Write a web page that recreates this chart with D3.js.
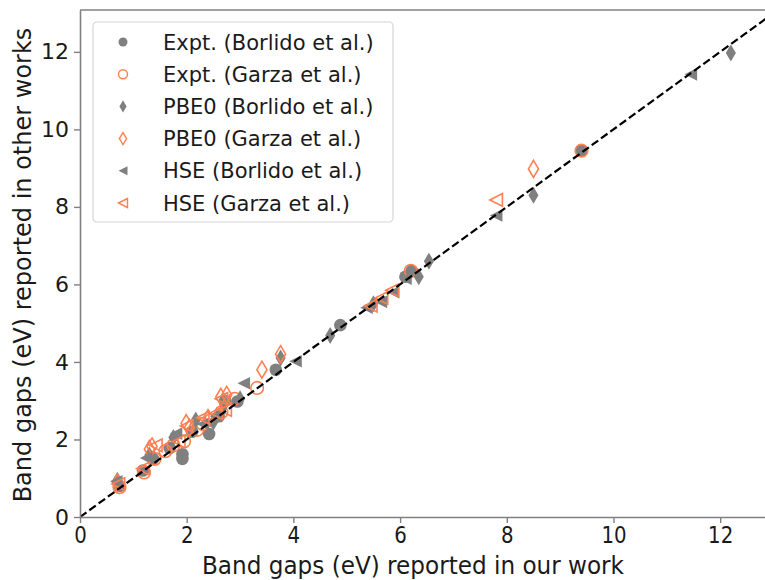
<!DOCTYPE html>
<html>
<head>
<meta charset="utf-8">
<script src="https://cdn.jsdelivr.net/npm/d3@7"></script>
<style>
	body { margin: 0; background: #fff; }
	text { font-family: "DejaVu Sans", sans-serif; fill: #1a1a1a; }
</style>
</head>
<body>
<div id="svg"></div>
<script>
///////////////////////////////////////////////////////////////////////////////
//// Data /////////////////////////////////////////////////////////////////////
///////////////////////////////////////////////////////////////////////////////
// [our work, other work] band gaps in eV
const exptBorlido = [
	[0.74, 0.80], [1.18, 1.20], [1.37, 1.50], [1.68, 1.78], [1.92, 1.50],
	[1.92, 1.62], [2.10, 2.20], [2.42, 2.14], [2.60, 2.60], [2.72, 3.00],
	[2.95, 2.98], [3.67, 3.80], [4.88, 4.95], [6.10, 6.20], [6.22, 6.35],
	[9.40, 9.45]
];
const exptGarza = [
	[0.74, 0.77], [1.20, 1.15], [1.40, 1.50], [1.60, 1.70], [1.75, 1.85],
	[1.95, 1.95], [2.20, 2.25], [2.30, 2.40], [2.45, 2.50], [2.65, 2.70],
	[2.90, 3.05], [3.32, 3.33], [6.20, 6.35], [9.40, 9.45]
];
const pbe0Borlido = [
	[0.70, 0.95], [1.30, 1.60], [1.75, 2.05], [2.17, 2.50], [2.50, 2.45],
	[2.70, 2.90], [3.00, 3.05], [3.76, 4.10], [4.69, 4.68], [5.50, 5.50],
	[6.35, 6.20], [6.54, 6.60], [8.50, 8.30], [12.20, 11.97]
];
const pbe0Garza = [
	[0.70, 0.88], [1.30, 1.75], [1.35, 1.82], [1.99, 2.42], [2.05, 2.30],
	[2.40, 2.55], [2.64, 3.10], [2.75, 3.15], [3.41, 3.80], [3.76, 4.20],
	[8.50, 8.98]
];
const hseBorlido = [
	[0.68, 0.92], [1.24, 1.52], [1.80, 2.15], [2.30, 2.40], [2.55, 2.60],
	[3.07, 3.45], [4.04, 4.02], [5.37, 5.40], [5.64, 5.55], [5.87, 5.80],
	[6.10, 6.15], [7.80, 7.78], [11.45, 11.42]
];
const hseGarza = [
	[0.72, 0.85], [1.18, 1.25], [1.42, 1.85], [1.85, 1.95], [2.00, 2.35],
	[2.30, 2.56], [2.55, 2.68], [2.65, 3.05], [2.72, 2.76], [5.45, 5.45],
	[5.65, 5.65], [5.85, 5.85], [7.80, 8.18]
];

const seriesNames = ["Expt. (Borlido et al.)", "Expt. (Garza et al.)",
										 "PBE0 (Borlido et al.)", "PBE0 (Garza et al.)",
										 "HSE (Borlido et al.)", "HSE (Garza et al.)"];
const xTicks = [0, 2, 4, 6, 8, 10, 12],
			yTicks = [0, 2, 4, 6, 8, 10, 12];

///////////////////////////////////////////////////////////////////////////////
//// Set Up ///////////////////////////////////////////////////////////////////
///////////////////////////////////////////////////////////////////////////////
const width = 765,
			height = 580;

const grey = "#808080",
			coral = "#ff7f50";

const margin = { left: 80, right: 0, top: 10, bottom: 63 };

const x = d3.scaleLinear()
		.domain([0, 12.84])
		.range([margin.left, width - margin.right]);

const y = d3.scaleLinear()
		.domain([0, 13.08])
		.range([height - margin.bottom, margin.top]);

// Marker shapes, s = half size
const shapes = {
	circle: s => `M${s},0A${s},${s} 0 1,1 ${-s},0A${s},${s} 0 1,1 ${s},0Z`,
	diamond: s => `M0,${-s * 1.35}L${s * 0.8},0L0,${s * 1.35}L${-s * 0.8},0Z`,
	triLeft: s => `M${-s},0L${s},${-s}L${s},${s}Z`
};

const series = [
	{ name: seriesNames[0], data: exptBorlido, shape: "circle", filled: true },
	{ name: seriesNames[1], data: exptGarza, shape: "circle", filled: false },
	{ name: seriesNames[2], data: pbe0Borlido, shape: "diamond", filled: true },
	{ name: seriesNames[3], data: pbe0Garza, shape: "diamond", filled: false },
	{ name: seriesNames[4], data: hseBorlido, shape: "triLeft", filled: true },
	{ name: seriesNames[5], data: hseGarza, shape: "triLeft", filled: false }
];

const svg = d3.select("#svg")
	.append("svg")
		.attr("width", width)
		.attr("height", height);

svg.append("defs")
	.append("clipPath")
		.attr("id", "plot-clip")
	.append("rect")
		.attr("x", margin.left)
		.attr("y", margin.top)
		.attr("width", width - margin.left - margin.right)
		.attr("height", height - margin.top - margin.bottom);

///////////////////////////////////////////////////////////////////////////////
//// Markers //////////////////////////////////////////////////////////////////
///////////////////////////////////////////////////////////////////////////////
const plotG = svg.append("g")
		.attr("clip-path", "url(#plot-clip)");

series.forEach(sr => {
	plotG.append("g")
		.selectAll("path")
		.data(sr.data)
		.enter()
		.append("path")
			.attr("transform", d => `translate(${x(d[0])}, ${y(d[1])})`)
			.attr("d", shapes[sr.shape](6.3))
			.attr("fill", sr.filled ? grey : "none")
			.attr("stroke", sr.filled ? "none" : coral)
			.attr("stroke-width", 1.6);
});

// y = x reference line
plotG.append("line")
		.attr("x1", x(0))
		.attr("y1", y(0))
		.attr("x2", x(14))
		.attr("y2", y(14))
		.attr("stroke", "#000")
		.attr("stroke-width", 2.2)
		.attr("stroke-dasharray", "8,3.5");

///////////////////////////////////////////////////////////////////////////////
//// Axes /////////////////////////////////////////////////////////////////////
///////////////////////////////////////////////////////////////////////////////
const xAxis = svg.append("g")
		.attr("transform", `translate(0, ${y(0)})`)
		.call(d3.axisBottom(x).tickValues(xTicks).tickSize(6).tickPadding(3).tickSizeOuter(0));

const yAxis = svg.append("g")
		.attr("transform", `translate(${x(0)}, 0)`)
		.call(d3.axisLeft(y).tickValues(yTicks).tickSize(6).tickPadding(5).tickSizeOuter(0));

[xAxis, yAxis].forEach(ax => {
	ax.select(".domain").attr("stroke", grey).attr("stroke-width", 1.6);
	ax.selectAll(".tick line").attr("stroke", grey).attr("stroke-width", 1.4);
	ax.selectAll(".tick text")
			.attr("fill", "#1a1a1a")
			.style("font-family", "DejaVu Sans")
			.style("font-size", "22px");
});

// x tick labels look slightly condensed in the reference
xAxis.selectAll(".tick text")
		.attr("transform", "scale(0.9, 1.05)");

// Top spine
svg.append("line")
		.attr("x1", x(0))
		.attr("x2", width)
		.attr("y1", y.range()[1])
		.attr("y2", y.range()[1])
		.attr("stroke", grey)
		.attr("stroke-width", 1.6);

// Axis labels
svg.append("text")
		.attr("x", 413)
		.attr("y", 574)
		.attr("text-anchor", "middle")
		.attr("textLength", 422)
		.attr("lengthAdjust", "spacingAndGlyphs")
		.style("font-size", "24px")
		.text("Band gaps (eV) reported in our work");

svg.append("text")
		.attr("transform", "translate(31, 265) rotate(-90)")
		.attr("text-anchor", "middle")
		.style("font-size", "24px")
		.text("Band gaps (eV) reported in other works");

///////////////////////////////////////////////////////////////////////////////
//// Legend ///////////////////////////////////////////////////////////////////
///////////////////////////////////////////////////////////////////////////////
const legendG = svg.append("g")
		.attr("transform", "translate(93, 22)");

legendG.append("rect")
		.attr("width", 300)
		.attr("height", 200)
		.attr("rx", 4)
		.attr("fill", "rgba(255,255,255,0.8)")
		.attr("stroke", "#d6d6d6")
		.attr("stroke-width", 1.2);

const legendItem = legendG.selectAll(".legend-item")
	.data(series)
	.enter()
	.append("g")
		.attr("class", "legend-item")
		.attr("transform", (d, i) => `translate(0, ${20 + i * 32.2})`);

legendItem.append("path")
		.attr("transform", "translate(30, 0)")
		.attr("d", d => shapes[d.shape](4.5))
		.attr("fill", d => d.filled ? grey : "none")
		.attr("stroke", d => d.filled ? "none" : coral)
		.attr("stroke-width", 1.4);

legendItem.append("text")
		.attr("x", 70)
		.attr("dy", "0.36em")
		.style("font-size", "21px")
		.text(d => d.name);
</script>
</body>
</html>
